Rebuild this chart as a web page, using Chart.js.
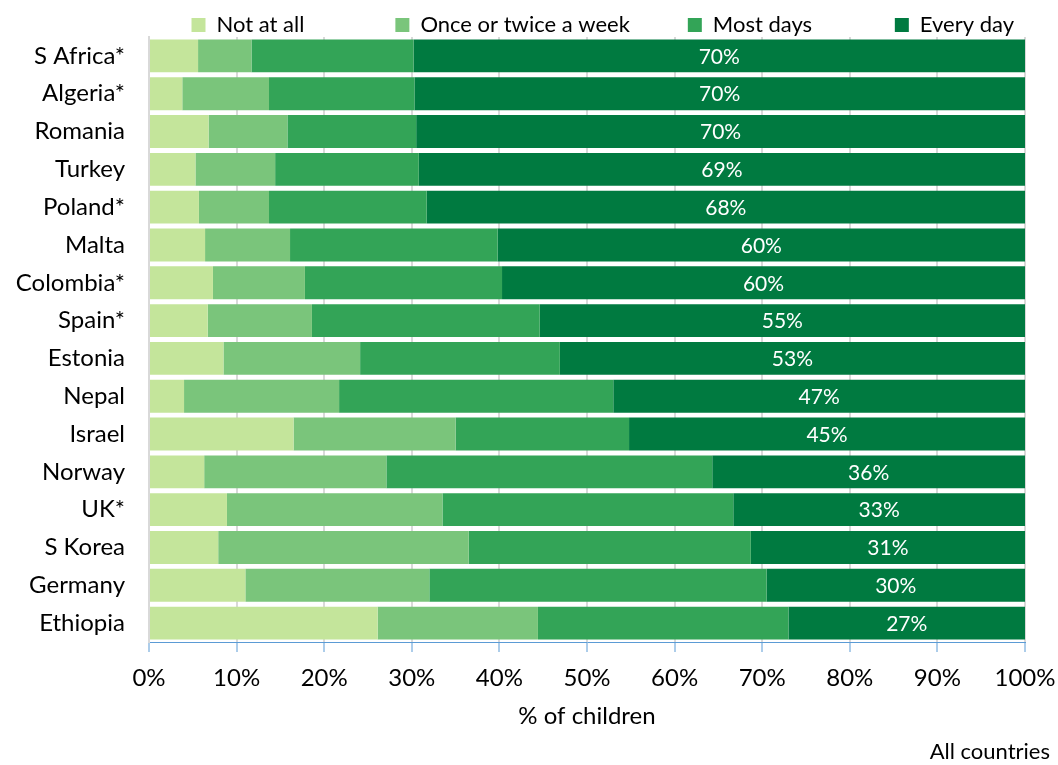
<!DOCTYPE html>
<html>
<head>
<meta charset="utf-8">
<script src="https://cdn.jsdelivr.net/npm/chart.js@4"></script>
<style>
  html, body { margin: 0; padding: 0; background: #fff; }
  #wrap { width: 1058px; height: 765px; }
</style>
</head>
<body>
<div id="wrap"><canvas id="chart" width="1058" height="765"></canvas></div>
<script>
const countries = ['S Africa*', 'Algeria*', 'Romania', 'Turkey', 'Poland*', 'Malta', 'Colombia*', 'Spain*',
  'Estonia', 'Nepal', 'Israel', 'Norway', 'UK*', 'S Korea', 'Germany', 'Ethiopia'];
const notAtAll   = [5.6, 3.8, 6.8, 5.3, 5.7, 6.4, 7.3, 6.7, 8.5, 4.0, 16.5, 6.3, 8.9, 7.9, 11.0, 26.1];
const onceTwice  = [6.1, 9.9, 9.0, 9.1, 8.0, 9.7, 10.5, 11.9, 15.6, 17.7, 18.5, 20.8, 24.6, 28.6, 21.0, 18.3];
const mostDays   = [18.5, 16.6, 14.7, 16.4, 18.0, 23.7, 22.5, 26.0, 22.8, 31.3, 19.8, 37.2, 33.2, 32.2, 38.5, 28.6];
const everyDay   = [69.8, 69.7, 69.5, 69.2, 68.3, 60.2, 59.7, 55.4, 53.1, 47.0, 45.2, 35.7, 33.3, 31.3, 29.5, 27.0];
const xTicks = [0, 10, 20, 30, 40, 50, 60, 70, 80, 90, 100];

const FONT = 'Lato, "Open Sans", sans-serif';
const EN = '\u2002';
// trailing space after each legend entry (Excel spaces them unevenly)
const legendGaps = [EN.repeat(7), EN.repeat(4), EN.repeat(6) + '\u2009', EN.repeat(2)];

// white % labels in the middle of the "Every day" segments
const everyDayLabels = {
  id: 'everyDayLabels',
  afterDatasetsDraw(chart) {
    const ctx = chart.ctx;
    const meta = chart.getDatasetMeta(3);
    ctx.save();
    ctx.fillStyle = '#fff';
    ctx.font = '21px ' + FONT;
    ctx.textAlign = 'center';
    ctx.textBaseline = 'middle';
    meta.data.forEach((bar, i) => {
      const p = bar.getProps(['x', 'y', 'base'], true);
      ctx.fillText(Math.round(everyDay[i]) + '%', (p.x + p.base) / 2, p.y + 1);
    });
    ctx.restore();
  }
};

// legend sits tight on top of the plot, so trim its reserved height a bit
const tightLegend = {
  id: 'tightLegend',
  afterInit(chart) {
    const lg = chart.legend;
    if (!lg) return;
    const fit = lg.fit;
    lg.fit = function () { fit.call(this); this.height -= 9; };
  }
};

new Chart(document.getElementById('chart'), {
  type: 'bar',
  data: {
    labels: countries,
    datasets: [
      { label: 'Not at all', data: notAtAll, backgroundColor: '#c4e59b' },
      { label: 'Once or twice a week', data: onceTwice, backgroundColor: '#7ac57b' },
      { label: 'Most days', data: mostDays, backgroundColor: '#33a457' },
      { label: 'Every day', data: everyDay, backgroundColor: '#007a40' },
    ],
  },
  options: {
    indexAxis: 'y',
    responsive: false,
    animation: false,
    layout: { padding: { left: 0, right: 8, top: 0, bottom: 0 } },
    datasets: { bar: { barPercentage: 0.87, categoryPercentage: 1, borderWidth: 0 } },
    scales: {
      x: {
        stacked: true,
        min: 0,
        max: 100,
        afterBuildTicks(s) { s.ticks = xTicks.map(v => ({ value: v })); },
        afterFit(s) { s.paddingRight = 33; },
        ticks: {
          callback: v => v + '%',
          color: '#000',
          font: { family: FONT, size: 24 },
          padding: 12,
          maxRotation: 0,
        },
        grid: { color: '#d9d9d9', lineWidth: 2, tickColor: '#5b9bd5', tickLength: 10, tickWidth: 1 },
        border: { color: '#5b9bd5', width: 1 },
        title: { display: true, text: '% of children', color: '#000', font: { family: FONT, size: 24 }, padding: { top: -3, bottom: 0 } },
      },
      y: {
        stacked: true,
        afterFit(s) { s.width = 149; },
        ticks: { color: '#000', font: { family: FONT, size: 24 }, padding: 16 },
        grid: { display: false },
        border: { color: '#d9d9d9', width: 2 },
      },
    },
    plugins: {
      legend: {
        position: 'top',
        align: 'end',
        labels: {
          color: '#000',
          font: { family: FONT, size: 22 },
          boxWidth: 14,
          boxHeight: 14,
          padding: 14,
          generateLabels(chart) {
            const items = Chart.defaults.plugins.legend.labels.generateLabels(chart);
            items.forEach((it, i) => { it.text = it.text + legendGaps[i]; it.lineWidth = 0; });
            return items;
          },
        },
      },
      subtitle: {
        display: true,
        text: 'All countries',
        position: 'bottom',
        align: 'end',
        color: '#000',
        font: { family: FONT, size: 22 },
        padding: { top: 8, bottom: 0 },
      },
      tooltip: { enabled: false },
    },
  },
  plugins: [everyDayLabels, tightLegend],
});
</script>
</body>
</html>
